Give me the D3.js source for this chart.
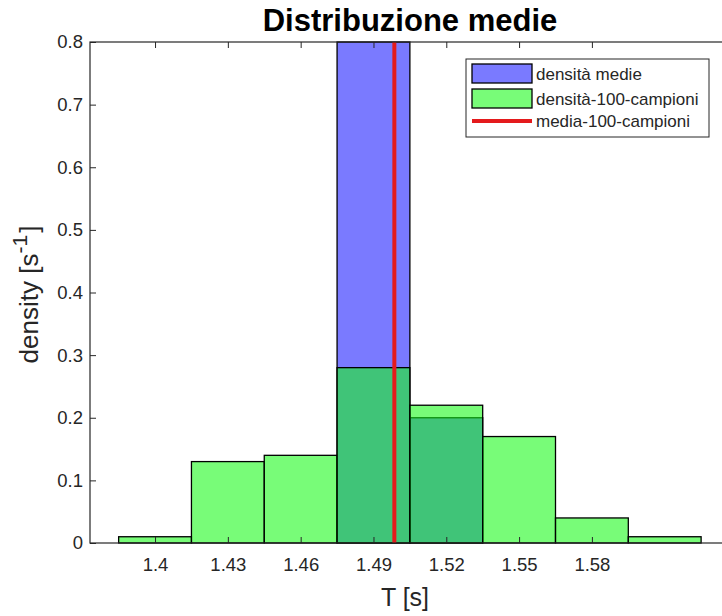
<!DOCTYPE html>
<html>
<head>
<meta charset="utf-8">
<script src="https://cdn.jsdelivr.net/npm/d3@7"></script>
<style>
  body { margin: 0; background: #fff; }
  svg { display: block; font-family: "Liberation Sans", Arial, sans-serif; }
</style>
</head>
<body>
<svg id="chart" width="722" height="616"></svg>
<script>
// Data
const binEdges = [1.385, 1.415, 1.445, 1.475, 1.505, 1.535, 1.565, 1.595, 1.625];
const sampleDensity = [0.01, 0.13, 0.14, 0.28, 0.22, 0.17, 0.04, 0.01];   // densità-100-campioni
const meanEdges = [1.475, 1.505, 1.535];
const meanDensity = [0.8, 0.2];                                          // densità medie
const sampleMean = 1.4986;                                               // media-100-campioni
const xTicks = [1.4, 1.43, 1.46, 1.49, 1.52, 1.55, 1.58];
const yTicks = [0, 0.1, 0.2, 0.3, 0.4, 0.5, 0.6, 0.7, 0.8];
const legendLabels = ["densità medie", "densità-100-campioni", "media-100-campioni"];

// Layout
const margin = {top: 42, right: -8, bottom: 73, left: 90},
    width = 722 - margin.left - margin.right,
    height = 616 - margin.top - margin.bottom;

const axisColor = "#262626";
const blue = "#0000ff", blueAlpha = 0.52;
const green = "#16fa16", greenAlpha = 0.58;
const red = "#e41a1c";

const svg = d3.select("#chart")
  .append("g")
    .attr("transform", `translate(${margin.left},${margin.top})`);

const x = d3.scaleLinear()
    .domain([1.3732, 1.6369])
    .range([0, width]);

const y = d3.scaleLinear()
    .domain([0, 0.8])
    .range([height, 0]);

// histogram bins
const toBins = (edges, vals) => vals.map((v, i) => ({x0: edges[i], x1: edges[i + 1], v}));

svg.selectAll(".bar-mean")
    .data(toBins(meanEdges, meanDensity))
    .enter()
    .append("rect")
    .attr("class", "bar-mean")
    .attr("x", d => x(d.x0))
    .attr("y", d => y(d.v))
    .attr("width", d => x(d.x1) - x(d.x0))
    .attr("height", d => y(0) - y(d.v))
    .attr("fill", blue)
    .attr("fill-opacity", blueAlpha)
    .attr("stroke", "#000")
    .attr("stroke-width", 1.3);

svg.selectAll(".bar-sample")
    .data(toBins(binEdges, sampleDensity))
    .enter()
    .append("rect")
    .attr("class", "bar-sample")
    .attr("x", d => x(d.x0))
    .attr("y", d => y(d.v))
    .attr("width", d => x(d.x1) - x(d.x0))
    .attr("height", d => y(0) - y(d.v))
    .attr("fill", green)
    .attr("fill-opacity", greenAlpha)
    .attr("stroke", "#000")
    .attr("stroke-width", 1.3);

// mean line
svg.append("line")
    .attr("x1", x(sampleMean)).attr("x2", x(sampleMean))
    .attr("y1", y(0)).attr("y2", y(0.8))
    .attr("stroke", red)
    .attr("stroke-width", 4);

// Axes (MATLAB style, ticks inside, box on)
const tickLen = 6;
const styleAxis = g => {
  g.select(".domain").remove();
  g.selectAll(".tick line").attr("stroke", axisColor);
  g.selectAll(".tick text")
    .attr("fill", axisColor)
    .style("font-size", "18.5px")
    .style("font-family", "Liberation Sans, Arial, sans-serif");
};

svg.append("g")
    .attr("transform", `translate(0,${height})`)
    .call(d3.axisBottom(x).tickValues(xTicks).tickSize(-tickLen).tickPadding(15).tickFormat(d3.format("")))
    .call(styleAxis);

svg.append("g")
    .call(d3.axisTop(x).tickValues(xTicks).tickSize(-tickLen).tickFormat(""))
    .call(styleAxis);

svg.append("g")
    .call(d3.axisLeft(y).tickValues(yTicks).tickSize(-tickLen).tickPadding(7).tickFormat(d3.format("")))
    .call(styleAxis);

svg.append("rect")
    .attr("x", 0).attr("y", 0)
    .attr("width", width).attr("height", height)
    .attr("fill", "none")
    .attr("stroke", axisColor)
    .attr("stroke-width", 1.2);

// Title and axis labels
svg.append("text")
    .attr("x", width / 2)
    .attr("y", -11)
    .attr("text-anchor", "middle")
    .style("font-size", "31px")
    .style("font-weight", "bold")
    .attr("fill", "#000")
    .text("Distribuzione medie");

svg.append("text")
    .attr("x", width / 2 - 5)
    .attr("y", height + 63)
    .attr("text-anchor", "middle")
    .style("font-size", "25px")
    .attr("fill", axisColor)
    .text("T [s]");

const yLabel = svg.append("text")
    .attr("transform", `translate(${-52},${height / 2 + 2}) rotate(-90)`)
    .attr("text-anchor", "middle")
    .style("font-size", "26px")
    .attr("fill", axisColor);
yLabel.append("tspan").text("density [s");
yLabel.append("tspan").attr("dy", -11).style("font-size", "21px").text("-1");
yLabel.append("tspan").attr("dy", 11).attr("dx", 2).text("]");

// Legend
const legend = svg.append("g")
    .attr("transform", `translate(${466 - margin.left},${59 - margin.top})`);

legend.append("rect")
    .attr("width", 243).attr("height", 78)
    .attr("fill", "#fff")
    .attr("stroke", axisColor)
    .attr("stroke-width", 1);

const rowY = [15, 40, 62];
const legendItems = legendLabels.map((label, i) => ({label, i}));

const item = legend.selectAll(".item")
    .data(legendItems)
    .enter()
    .append("g")
    .attr("class", "item")
    .attr("transform", d => `translate(0,${rowY[d.i]})`);

item.filter(d => d.i < 2)
  .append("rect")
    .attr("x", 6).attr("y", -10)
    .attr("width", 60).attr("height", 19)
    .attr("fill", d => d.i === 0 ? blue : green)
    .attr("fill-opacity", d => d.i === 0 ? blueAlpha : greenAlpha)
    .attr("stroke", "#000")
    .attr("stroke-width", 1.3);

item.filter(d => d.i === 2)
  .append("line")
    .attr("x1", 6).attr("x2", 66)
    .attr("stroke", red)
    .attr("stroke-width", 4);

item.append("text")
    .attr("x", 70)
    .attr("dy", "0.35em")
    .style("font-size", "17px")
    .attr("fill", axisColor)
    .text(d => d.label);
</script>
</body>
</html>
